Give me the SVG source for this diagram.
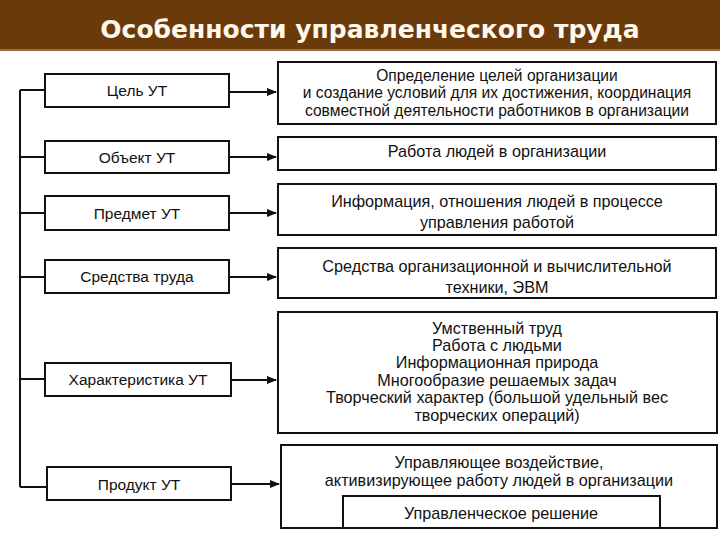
<svg xmlns="http://www.w3.org/2000/svg" width="720" height="540" viewBox="0 0 720 540">
<style>
.box{fill:#fff;stroke:#111;stroke-width:2}
.t{font-family:"Liberation Sans",Arial,sans-serif;font-size:16.2px;fill:#111;text-anchor:middle;dominant-baseline:central}
.l{font-size:15.5px}
.s{font-size:15.6px}
.c{stroke:#111;stroke-width:2;fill:none}
</style>
<defs>
<marker id="ah" markerWidth="10" markerHeight="8" refX="9" refY="4" orient="auto" markerUnits="userSpaceOnUse">
<path d="M0,0 L10,4 L0,8 Z" fill="#111"/>
</marker>
</defs>
<rect width="720" height="540" fill="#fff"/>
<g id="header">
<rect x="0" y="0" width="720" height="49" fill="#6B3A0B"/>
<rect x="0" y="49" width="720" height="2" fill="#9A6A3A"/>
<text x="370" y="38" font-family="DejaVu Sans,Verdana,sans-serif" font-weight="bold" font-size="25" fill="#FFF8EC" text-anchor="middle">Особенности управленческого труда</text>
</g>
<g id="connectors">
<path class="c" d="M20,90 V487"/>
<path class="c" d="M20,90 H45 M20,157 H45 M20,213 H45 M20,277 H45 M20,379 H45 M20,487 H47"/>
<path class="c" d="M229,92 H276" marker-end="url(#ah)"/>
<path class="c" d="M229,157 H276" marker-end="url(#ah)"/>
<path class="c" d="M229,213 H276" marker-end="url(#ah)"/>
<path class="c" d="M229,277 H276" marker-end="url(#ah)"/>
<path class="c" d="M231,380 H276" marker-end="url(#ah)"/>
<path class="c" d="M231,484 H279" marker-end="url(#ah)"/>
</g>
<g id="goal"><rect class="box" x="45" y="74" width="184" height="33"/><text class="t l" x="137" y="90">Цель УТ</text></g>
<g id="object"><rect class="box" x="45" y="141" width="184" height="32"/><text class="t l" x="137" y="157">Объект УТ</text></g>
<g id="subject"><rect class="box" x="45" y="196" width="184" height="34"/><text class="t l" x="137" y="213">Предмет УТ</text></g>
<g id="means"><rect class="box" x="45" y="260" width="184" height="33"/><text class="t l" x="137" y="276">Средства труда</text></g>
<g id="character"><rect class="box" x="45" y="363" width="186" height="33"/><text class="t l" x="138" y="379">Характеристика УТ</text></g>
<g id="product"><rect class="box" x="47" y="467" width="184" height="33"/><text class="t l" x="139" y="484">Продукт УТ</text></g>
<g id="goal-desc"><rect class="box" x="278" y="62" width="438" height="62"/>
<text class="t s" x="497" y="75">Определение целей организации</text>
<text class="t s" x="497" y="92.5">и создание условий для их достижения, координация</text>
<text class="t s" x="497" y="110">совместной деятельности работников в организации</text></g>
<g id="object-desc"><rect class="box" x="278" y="137" width="438" height="33"/>
<text class="t" x="497" y="151">Работа людей в организации</text></g>
<g id="subject-desc"><rect class="box" x="278" y="184" width="438" height="51"/>
<text class="t" x="497" y="201">Информация, отношения людей в процессе</text>
<text class="t" x="497" y="222">управления работой</text></g>
<g id="means-desc"><rect class="box" x="278" y="248" width="438" height="50"/>
<text class="t" x="497" y="266">Средства организационной и вычислительной</text>
<text class="t" x="497" y="287">техники, ЭВМ</text></g>
<g id="character-desc"><rect class="box" x="278" y="312" width="439" height="121"/>
<text class="t" x="497" y="328">Умственный труд</text>
<text class="t" x="497" y="345">Работа с людьми</text>
<text class="t" x="497" y="362">Информационная природа</text>
<text class="t" x="497" y="380">Многообразие решаемых задач</text>
<text class="t" x="497" y="397">Творческий характер (большой удельный вес</text>
<text class="t" x="497" y="415">творческих операций)</text></g>
<g id="product-desc"><rect class="box" x="281" y="445" width="436" height="83"/>
<text class="t" x="499" y="462">Управляющее воздействие,</text>
<text class="t" x="499" y="480">активизирующее работу людей в организации</text></g>
<g id="decision"><rect class="box" x="343" y="496" width="317" height="32"/>
<text class="t" x="501" y="513">Управленческое решение</text></g>
</svg>
